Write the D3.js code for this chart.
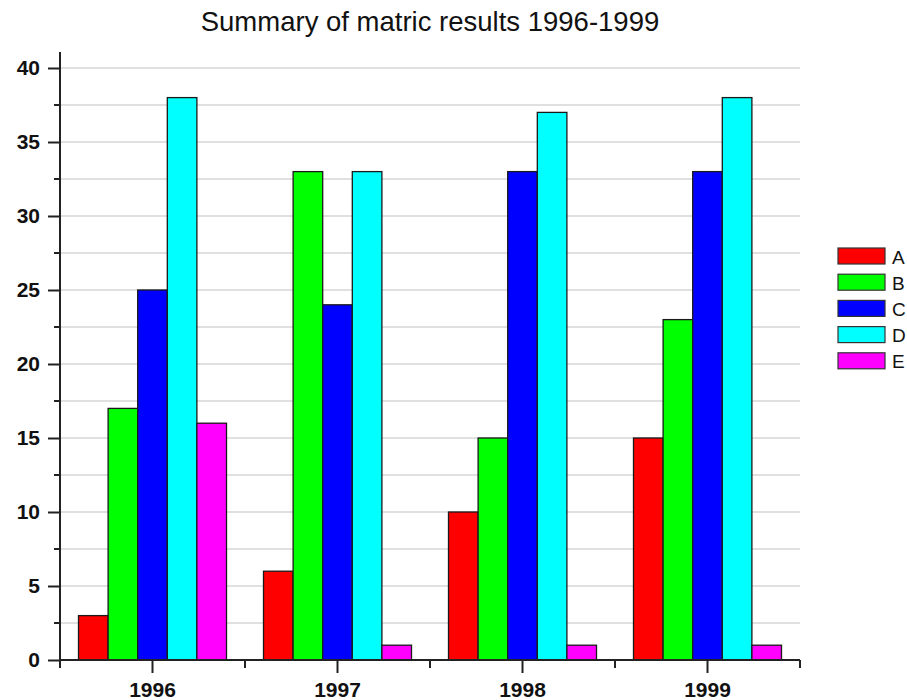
<!DOCTYPE html>
<html>
<head>
<meta charset="utf-8">
<script src="https://cdn.jsdelivr.net/npm/d3@7"></script>
<style>
  body { margin: 0; background: #fff; }
  #chart { width: 907px; height: 700px; }
  text { font-family: "Liberation Sans", Arial, sans-serif; }
</style>
</head>
<body>
<div id="chart"></div>
<script>
/** Data */
const years = ["1996", "1997", "1998", "1999"];
const grades = ["A", "B", "C", "D", "E"];
const gradeA = [3, 6, 10, 15];
const gradeB = [17, 33, 15, 23];
const gradeC = [25, 24, 33, 33];
const gradeD = [38, 33, 37, 38];
const gradeE = [16, 1, 1, 1];
const yTicks = [0, 5, 10, 15, 20, 25, 30, 35, 40];
const colors = ["#ff0000", "#00ff00", "#0000ff", "#00ffff", "#ff00ff"];

/** Graph configs */
const margin = { top: 52, right: 107, bottom: 40, left: 60 };
const width = 907 - margin.left - margin.right;
const height = 700 - margin.top - margin.bottom;

const drawGroupedBarChart = () => {
  const values = [gradeA, gradeB, gradeC, gradeD, gradeE];
  const data = years.map((year, i) => ({
    year,
    bars: grades.map((g, j) => ({ grade: g, value: values[j][i] })),
  }));

  const svg = d3
    .select("#chart")
    .append("svg")
    .attr("width", 907)
    .attr("height", 700);

  /** Title */
  svg
    .append("text")
    .attr("x", margin.left + width / 2)
    .attr("y", 31)
    .attr("text-anchor", "middle")
    .style("font-size", "27.5px")
    .style("fill", "#111")
    .text("Summary of matric results 1996-1999");

  const g = svg
    .append("g")
    .attr("transform", `translate(${margin.left},${margin.top})`);

  const xScale = d3.scaleBand().domain(years).range([0, width]);
  const x1 = d3
    .scaleBand()
    .domain(grades)
    .range([0, xScale.bandwidth()])
    .paddingOuter(0.625)
    .paddingInner(0);

  const yScale = d3.scaleLinear().domain([0, 40]).range([608, 16]);

  /** Gridlines every 2.5 */
  g.append("g")
    .selectAll("line")
    .data(d3.range(2.5, 40.1, 2.5))
    .enter()
    .append("line")
    .attr("x1", 0)
    .attr("x2", width)
    .attr("y1", (d) => yScale(d))
    .attr("y2", (d) => yScale(d))
    .attr("stroke", "#d6d6d6")
    .attr("stroke-width", 1.5);

  /** Bars */
  g.append("g")
    .selectAll("g")
    .data(data)
    .enter()
    .append("g")
    .attr("transform", (d) => `translate(${xScale(d.year)},0)`)
    .selectAll("rect")
    .data((d) => d.bars)
    .enter()
    .append("rect")
    .attr("x", (d) => x1(d.grade))
    .attr("y", (d) => yScale(d.value))
    .attr("width", x1.bandwidth())
    .attr("height", (d) => yScale(0) - yScale(d.value))
    .attr("fill", (d, i) => colors[i])
    .attr("stroke", "#1a1a1a")
    .attr("stroke-width", 1.3);

  /** Y axis: major ticks + minor ticks */
  const yAxis = d3
    .axisLeft(yScale)
    .tickValues(yTicks)
    .tickSize(12)
    .tickPadding(8);
  const yAxisG = g.append("g").call(yAxis);
  yAxisG.select(".domain").attr("d", `M0,0V${yScale(0)}`);
  yAxisG
    .selectAll(".minor")
    .data(d3.range(2.5, 40, 5))
    .enter()
    .append("line")
    .attr("class", "minor")
    .attr("x1", -6)
    .attr("x2", 0)
    .attr("y1", (d) => yScale(d))
    .attr("y2", (d) => yScale(d));

  /** X axis: labelled ticks at centers, short ticks at edges */
  const xAxis = d3
    .axisBottom(xScale)
    .tickSize(13)
    .tickPadding(9);
  const xAxisG = g
    .append("g")
    .attr("transform", `translate(0,${yScale(0)})`)
    .call(xAxis);
  xAxisG.select(".domain").attr("d", `M0,0H${width}`);
  xAxisG
    .selectAll(".edge")
    .data(d3.range(years.length + 1))
    .enter()
    .append("line")
    .attr("class", "edge")
    .attr("x1", (d) => d * xScale.step())
    .attr("x2", (d) => d * xScale.step())
    .attr("y1", 0)
    .attr("y2", 8);

  [yAxisG, xAxisG].forEach((ax) => {
    ax.selectAll("line, path").attr("stroke", "#222").attr("stroke-width", 2);
    ax.selectAll("text")
      .style("font-size", "21px")
      .style("font-weight", "bold")
      .style("fill", "#111")
      .style("font-family", '"Liberation Sans", Arial, sans-serif');
  });

  /** Legend */
  const legend = svg
    .append("g")
    .attr("transform", "translate(838,248)")
    .selectAll("g")
    .data(grades)
    .enter()
    .append("g")
    .attr("transform", (d, i) => `translate(0,${i * 26.2})`);
  legend
    .append("rect")
    .attr("width", 47)
    .attr("height", 16)
    .attr("fill", (d, i) => colors[i])
    .attr("stroke", "#333")
    .attr("stroke-width", 1.2);
  legend
    .append("text")
    .attr("x", 54)
    .attr("y", 15.5)
    .style("font-size", "19px")
    .style("fill", "#111")
    .text((d) => d);
};

drawGroupedBarChart();
</script>
</body>
</html>
